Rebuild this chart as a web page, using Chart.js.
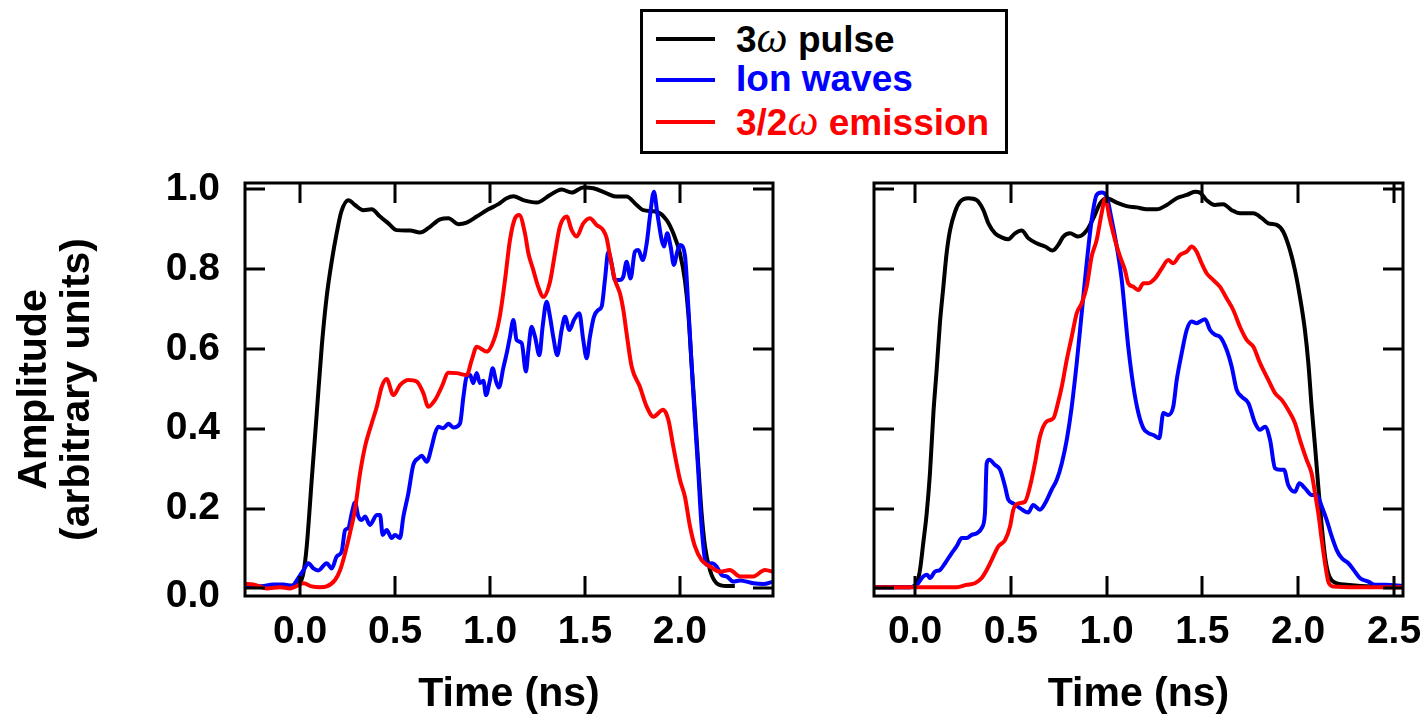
<!DOCTYPE html>
<html>
<head>
<meta charset="utf-8">
<script src="https://cdn.jsdelivr.net/npm/chart.js@4.4.0/dist/chart.umd.min.js"></script>
<style>
  html, body { margin: 0; padding: 0; background: #fff; }
  #wrap { position: relative; width: 1427px; height: 720px; overflow: hidden; background: #fff; }
  #wrap canvas { position: absolute; left: 0; top: 0; }
  #legend {
    position: absolute; left: 640px; top: 9px; width: 368px; height: 145px;
    box-sizing: border-box; border: 3px solid #000; background: #fff;
    font-family: 'Liberation Sans', Arial, Helvetica, sans-serif; font-weight: bold; font-size: 37px;
  }
  #legend .row { position: absolute; left: 0; height: 40px; display: flex; align-items: center; white-space: nowrap; }
  #legend .swatch { position: absolute; left: 13px; width: 59px; height: 4px; }
  #legend .txt { position: absolute; left: 93px; line-height: 40px; }
  #legend .w { font-family: 'Liberation Serif', 'DejaVu Serif', serif; font-style: italic; font-weight: normal; font-size: 44px; }
</style>
</head>
<body>
<div id="wrap">
  <canvas id="left" width="1427" height="720"></canvas>
  <canvas id="right" width="1427" height="720"></canvas>
  <div id="legend"></div>
</div>
<script>
// Series names and colours
const seriesLabels = ['3ω pulse', 'Ion waves', '3/2ω emission'];
const seriesColors = ['#000000', '#0000ff', '#ff0000'];

// Axis tick values
const yTicks = [0, 0.2, 0.4, 0.6, 0.8, 1.0];
const xTicksLeft = [0, 0.5, 1.0, 1.5, 2.0];
const xTicksRight = [0, 0.5, 1.0, 1.5, 2.0, 2.5];

// Left shot: [time (ns), amplitude]
const pulseLeft = [
  [-0.29,0.006],[-0.2,0.005],[-0.1,0.006],[-0.03,0.008],[0.0,0.015],[0.018,0.04],[0.035,0.105],
  [0.061,0.27],[0.088,0.44],[0.114,0.605],[0.14,0.73],[0.167,0.82],[0.193,0.89],[0.217,0.943],
  [0.254,0.972],[0.289,0.96],[0.333,0.947],[0.377,0.949],[0.421,0.931],[0.465,0.914],[0.509,0.897],
  [0.579,0.896],[0.632,0.891],[0.675,0.902],[0.737,0.924],[0.781,0.927],[0.833,0.912],[0.877,0.916],
  [0.93,0.931],[0.991,0.949],[1.044,0.962],[1.088,0.977],[1.123,0.982],[1.175,0.972],[1.246,0.966],
  [1.316,0.985],[1.377,0.999],[1.43,0.991],[1.491,1.004],[1.544,1.002],[1.614,0.989],[1.667,0.981],
  [1.719,0.981],[1.772,0.96],[1.807,0.947],[1.877,0.943],[1.93,0.922],[1.965,0.889],[2.0,0.839],
  [2.026,0.772],[2.044,0.689],[2.061,0.564],[2.079,0.439],[2.096,0.314],[2.114,0.189],[2.132,0.105],
  [2.158,0.046],[2.193,0.013],[2.246,0.006],[2.289,0.006]
];
const ionLeft = [
  [-0.29,0.006],[-0.21,0.005],[-0.14,0.01],[-0.088,0.01],[-0.044,0.006],[-0.009,0.026],[0.018,0.046],
  [0.044,0.063],[0.07,0.05],[0.096,0.045],[0.14,0.063],[0.167,0.05],[0.193,0.08],[0.219,0.092],
  [0.237,0.146],[0.254,0.151],[0.272,0.188],[0.289,0.215],[0.307,0.18],[0.325,0.171],[0.342,0.18],
  [0.368,0.159],[0.404,0.184],[0.421,0.184],[0.435,0.134],[0.456,0.146],[0.482,0.126],[0.5,0.134],
  [0.526,0.126],[0.544,0.18],[0.57,0.238],[0.596,0.309],[0.623,0.326],[0.64,0.332],[0.667,0.317],
  [0.693,0.355],[0.711,0.389],[0.728,0.405],[0.754,0.401],[0.781,0.412],[0.807,0.403],[0.842,0.413],
  [0.86,0.48],[0.877,0.53],[0.895,0.534],[0.912,0.514],[0.93,0.539],[0.947,0.514],[0.965,0.52],
  [0.979,0.484],[1.0,0.522],[1.014,0.551],[1.032,0.518],[1.047,0.503],[1.07,0.552],[1.088,0.589],
  [1.105,0.63],[1.123,0.672],[1.14,0.622],[1.167,0.614],[1.189,0.543],[1.202,0.597],[1.219,0.655],
  [1.237,0.63],[1.26,0.584],[1.277,0.655],[1.298,0.718],[1.316,0.68],[1.333,0.63],[1.354,0.584],
  [1.377,0.647],[1.395,0.68],[1.418,0.647],[1.442,0.672],[1.47,0.689],[1.491,0.622],[1.509,0.576],
  [1.526,0.63],[1.547,0.68],[1.57,0.697],[1.588,0.706],[1.605,0.772],[1.623,0.843],[1.64,0.814],
  [1.658,0.772],[1.681,0.772],[1.702,0.781],[1.719,0.818],[1.74,0.776],[1.763,0.843],[1.781,0.847],
  [1.804,0.822],[1.825,0.864],[1.842,0.931],[1.863,0.993],[1.881,0.939],[1.904,0.872],[1.916,0.856],
  [1.933,0.889],[1.951,0.856],[1.968,0.81],[1.986,0.843],[2.0,0.86],[2.026,0.835],[2.044,0.706],
  [2.061,0.564],[2.079,0.422],[2.096,0.297],[2.114,0.155],[2.14,0.059],[2.167,0.063],[2.193,0.055],
  [2.219,0.034],[2.246,0.03],[2.281,0.017],[2.316,0.02],[2.386,0.013],[2.439,0.011],[2.491,0.017]
];
const emissionLeft = [
  [-0.289,0.011],[-0.246,0.01],[-0.175,0.0],[-0.105,0.003],[-0.053,0.0],[-0.018,0.006],[0.018,0.013],
  [0.061,0.005],[0.105,0.003],[0.14,0.005],[0.184,0.021],[0.211,0.046],[0.237,0.088],[0.263,0.139],
  [0.289,0.197],[0.316,0.289],[0.342,0.355],[0.377,0.413],[0.404,0.455],[0.43,0.505],[0.456,0.524],
  [0.491,0.484],[0.526,0.509],[0.57,0.522],[0.614,0.518],[0.649,0.489],[0.675,0.455],[0.711,0.472],
  [0.746,0.505],[0.781,0.54],[0.825,0.539],[0.877,0.534],[0.904,0.572],[0.93,0.605],[0.982,0.593],
  [1.026,0.63],[1.053,0.685],[1.079,0.772],[1.105,0.872],[1.132,0.927],[1.154,0.935],[1.184,0.889],
  [1.202,0.839],[1.228,0.797],[1.254,0.755],[1.281,0.73],[1.316,0.768],[1.342,0.839],[1.368,0.906],
  [1.404,0.931],[1.43,0.897],[1.456,0.881],[1.491,0.914],[1.526,0.927],[1.561,0.91],[1.596,0.897],
  [1.614,0.877],[1.632,0.831],[1.658,0.772],[1.684,0.739],[1.702,0.697],[1.719,0.639],[1.746,0.555],
  [1.789,0.505],[1.825,0.455],[1.86,0.43],[1.912,0.447],[1.939,0.422],[1.965,0.355],[2.0,0.272],
  [2.026,0.23],[2.053,0.155],[2.079,0.105],[2.114,0.071],[2.158,0.055],[2.211,0.042],[2.263,0.046],
  [2.316,0.03],[2.386,0.03],[2.447,0.046],[2.5,0.04]
];

// Right shot: [time (ns), amplitude]
const pulseRight = [
  [-0.214,0.003],[-0.026,0.003],[0.009,0.013],[0.026,0.046],[0.043,0.113],[0.061,0.188],[0.078,0.288],
  [0.096,0.439],[0.113,0.547],[0.13,0.664],[0.148,0.755],[0.165,0.839],[0.183,0.897],[0.209,0.943],
  [0.235,0.968],[0.278,0.977],[0.322,0.972],[0.357,0.947],[0.383,0.914],[0.418,0.889],[0.452,0.879],
  [0.487,0.874],[0.522,0.889],[0.557,0.896],[0.591,0.877],[0.635,0.864],[0.679,0.856],[0.719,0.846],
  [0.748,0.86],[0.774,0.881],[0.809,0.889],[0.852,0.881],[0.896,0.896],[0.931,0.927],[0.966,0.964],
  [1.0,0.977],[1.053,0.966],[1.105,0.957],[1.157,0.954],[1.209,0.949],[1.261,0.949],[1.314,0.96],
  [1.366,0.977],[1.418,0.985],[1.461,0.993],[1.487,0.991],[1.522,0.972],[1.566,0.96],[1.609,0.962],
  [1.653,0.947],[1.696,0.939],[1.766,0.939],[1.81,0.927],[1.844,0.914],[1.888,0.91],[1.922,0.893],
  [1.957,0.847],[1.983,0.797],[2.009,0.73],[2.035,0.647],[2.053,0.564],[2.07,0.455],[2.088,0.355],
  [2.105,0.255],[2.123,0.155],[2.14,0.08],[2.157,0.038],[2.183,0.017],[2.253,0.009],[2.392,0.005],
  [2.549,0.005]
];
const ionRight = [
  [-0.214,0.003],[-0.026,0.003],[0.009,0.009],[0.043,0.03],[0.064,0.034],[0.078,0.026],[0.104,0.042],
  [0.13,0.046],[0.157,0.063],[0.191,0.088],[0.217,0.105],[0.244,0.126],[0.27,0.126],[0.296,0.134],
  [0.322,0.138],[0.348,0.151],[0.365,0.188],[0.374,0.313],[0.388,0.322],[0.418,0.309],[0.444,0.297],
  [0.47,0.255],[0.487,0.222],[0.513,0.213],[0.548,0.201],[0.591,0.19],[0.617,0.209],[0.652,0.197],
  [0.679,0.213],[0.713,0.247],[0.74,0.272],[0.766,0.313],[0.792,0.372],[0.818,0.455],[0.844,0.564],
  [0.87,0.689],[0.896,0.814],[0.922,0.922],[0.948,0.985],[0.974,0.991],[1.0,0.981],[1.027,0.922],
  [1.053,0.856],[1.079,0.772],[1.096,0.689],[1.113,0.605],[1.14,0.505],[1.166,0.439],[1.192,0.401],
  [1.218,0.389],[1.244,0.384],[1.275,0.376],[1.296,0.439],[1.322,0.434],[1.348,0.455],[1.366,0.522],
  [1.392,0.589],[1.418,0.647],[1.444,0.668],[1.47,0.664],[1.487,0.668],[1.514,0.674],[1.54,0.647],
  [1.566,0.635],[1.592,0.63],[1.627,0.597],[1.653,0.555],[1.679,0.497],[1.705,0.48],[1.74,0.464],
  [1.775,0.414],[1.801,0.397],[1.827,0.405],[1.853,0.372],[1.879,0.301],[1.905,0.297],[1.926,0.297],
  [1.948,0.259],[1.983,0.242],[2.006,0.263],[2.035,0.251],[2.07,0.234],[2.097,0.234],[2.123,0.205],
  [2.149,0.171],[2.175,0.13],[2.201,0.096],[2.227,0.076],[2.262,0.063],[2.296,0.042],[2.322,0.026],
  [2.366,0.017],[2.401,0.009],[2.453,0.009],[2.549,0.006]
];
const emissionRight = [
  [-0.214,0.003],[0.217,0.003],[0.27,0.009],[0.313,0.013],[0.348,0.026],[0.374,0.046],[0.4,0.071],
  [0.435,0.105],[0.47,0.121],[0.496,0.155],[0.513,0.197],[0.54,0.213],[0.574,0.217],[0.6,0.255],
  [0.626,0.313],[0.652,0.38],[0.687,0.418],[0.722,0.426],[0.748,0.468],[0.766,0.505],[0.792,0.572],
  [0.818,0.63],[0.844,0.689],[0.87,0.714],[0.896,0.755],[0.922,0.831],[0.948,0.872],[0.974,0.939],
  [0.992,0.975],[1.018,0.922],[1.044,0.872],[1.07,0.831],[1.096,0.797],[1.113,0.764],[1.14,0.755],
  [1.166,0.747],[1.192,0.764],[1.218,0.764],[1.253,0.776],[1.288,0.801],[1.322,0.822],[1.348,0.814],
  [1.383,0.835],[1.418,0.843],[1.444,0.856],[1.47,0.843],[1.496,0.814],[1.522,0.789],[1.557,0.772],
  [1.592,0.755],[1.627,0.726],[1.661,0.697],[1.696,0.655],[1.731,0.622],[1.766,0.605],[1.801,0.564],
  [1.844,0.522],[1.879,0.489],[1.914,0.472],[1.948,0.447],[1.983,0.414],[2.009,0.372],[2.044,0.322],
  [2.07,0.288],[2.088,0.238],[2.105,0.188],[2.123,0.121],[2.14,0.063],[2.157,0.017],[2.183,0.005],
  [2.305,0.003],[2.549,0.003]
];

const FONT = "'Liberation Sans', Arial, Helvetica, sans-serif";
const TICK_FONT = { family: FONT, size: 39, weight: 'bold' };
Chart.defaults.font.family = FONT;
Chart.defaults.color = '#000';

const toPoints = arr => arr.map(([x, y]) => ({ x, y }));

function makeDatasets(pulse, ion, emission) {
  return [pulse, ion, emission].map((series, i) => ({
    label: seriesLabels[i],
    data: toPoints(series),
    borderColor: seriesColors[i],
    backgroundColor: seriesColors[i],
    borderWidth: 4,
    pointRadius: 0,
    fill: false,
    cubicInterpolationMode: 'monotone'
  })).reverse(); // emission under ion waves under pulse
}

// Boxed frame with inward tick marks on all four sides
const framePlugin = {
  id: 'frame',
  afterDraw(chart) {
    const { ctx, chartArea: { left, right, top, bottom }, scales: { x, y } } = chart;
    const len = 20;
    ctx.save();
    ctx.strokeStyle = '#000';
    ctx.lineWidth = 3;
    ctx.beginPath();
    x.ticks.forEach(t => {
      const px = Math.round(x.getPixelForValue(t.value));
      ctx.moveTo(px, bottom); ctx.lineTo(px, bottom - len);
      ctx.moveTo(px, top); ctx.lineTo(px, top + len);
    });
    y.ticks.forEach(t => {
      const py = Math.round(y.getPixelForValue(t.value));
      ctx.moveTo(left, py); ctx.lineTo(left + len, py);
      ctx.moveTo(right, py); ctx.lineTo(right - len, py);
    });
    ctx.stroke();
    ctx.strokeRect(left, top, right - left, bottom - top);

    // the zero label on the amplitude axis sits a little low, level with the frame corner
    if (y.options.ticks.display) {
      const zero = y.ticks.find(t => t.value === 0);
      if (zero) {
        ctx.fillStyle = '#000';
        ctx.font = `bold ${TICK_FONT.size}px ${FONT}`;
        ctx.textAlign = 'right';
        ctx.textBaseline = 'middle';
        ctx.fillText(zero.label, left - y.options.ticks.padding, y.getPixelForValue(0) + 8);
      }
    }
    ctx.restore();
  }
};

function makeChart(id, cfg) {
  const showY = cfg.showYLabels;
  return new Chart(document.getElementById(id), {
    type: 'line',
    data: { datasets: makeDatasets(cfg.pulse, cfg.ion, cfg.emission) },
    options: {
      responsive: false,
      animation: false,
      devicePixelRatio: 1,
      layout: { padding: { left: cfg.padLeft, right: cfg.padRight, top: 183, bottom: 0 } },
      plugins: { legend: { display: false }, tooltip: { enabled: false } },
      scales: {
        x: {
          type: 'linear',
          min: cfg.xMin,
          max: cfg.xMax,
          afterBuildTicks: s => { s.ticks = cfg.xTicks.map(v => ({ value: v })); },
          afterFit: s => { s.height = 124; s.paddingLeft = 0; s.paddingRight = 0; },
          grid: { display: false, drawTicks: false },
          border: { display: false },
          ticks: {
            autoSkip: false, maxRotation: 0, padding: 13, color: '#000',
            font: TICK_FONT,
            callback: v => Number(v).toFixed(1)
          },
          title: {
            display: true, text: 'Time (ns)', color: '#000',
            font: { family: FONT, size: 41, weight: 'bold' },
            padding: { top: 0, bottom: 1 }
          }
        },
        y: {
          type: 'linear',
          min: -0.019,
          max: 1.015,
          afterBuildTicks: s => { s.ticks = yTicks.map(v => ({ value: v })); },
          afterFit: s => { s.width = cfg.yWidth; s.paddingTop = 0; s.paddingBottom = 0; },
          grid: { display: false, drawTicks: false },
          border: { display: false },
          ticks: {
            display: showY, autoSkip: false, padding: 25,
            color: ctx => (ctx.tick && ctx.tick.value === 0) ? 'rgba(0,0,0,0)' : '#000',
            font: TICK_FONT,
            callback: v => Number(v).toFixed(1)
          },
          title: {
            display: showY, text: ['Amplitude', '(arbitrary units)'], color: '#000',
            font: { family: FONT, size: 41, weight: 'bold', lineHeight: 1.05 },
            padding: { top: 13, bottom: 0 }
          }
        }
      }
    },
    plugins: [framePlugin]
  });
}

makeChart('left', {
  pulse: pulseLeft, ion: ionLeft, emission: emissionLeft,
  xMin: -0.29, xMax: 2.49, xTicks: xTicksLeft,
  padLeft: 0, padRight: 1427 - 773, yWidth: 245, showYLabels: true
});

makeChart('right', {
  pulse: pulseRight, ion: ionRight, emission: emissionRight,
  xMin: -0.214, xMax: 2.547, xTicks: xTicksRight,
  padLeft: 874, padRight: 1427 - 1403, yWidth: 0, showYLabels: false
});

// Legend built from the series names and colours
(function buildLegend() {
  const box = document.getElementById('legend');
  const rowCenters = [27, 68, 110];
  seriesLabels.forEach((label, i) => {
    const row = document.createElement('div');
    row.className = 'row';
    row.style.top = (rowCenters[i] - 20) + 'px';
    const sw = document.createElement('div');
    sw.className = 'swatch';
    sw.style.background = seriesColors[i];
    sw.style.top = '18px';
    const txt = document.createElement('div');
    txt.className = 'txt';
    txt.style.color = seriesColors[i];
    txt.style.top = '-1px';
    label.split(/(ω)/).forEach(part => {
      if (!part) return;
      const span = document.createElement('span');
      if (part === 'ω') span.className = 'w';
      span.textContent = part;
      txt.appendChild(span);
    });
    row.appendChild(sw);
    row.appendChild(txt);
    box.appendChild(row);
  });
})();
</script>
</body>
</html>
